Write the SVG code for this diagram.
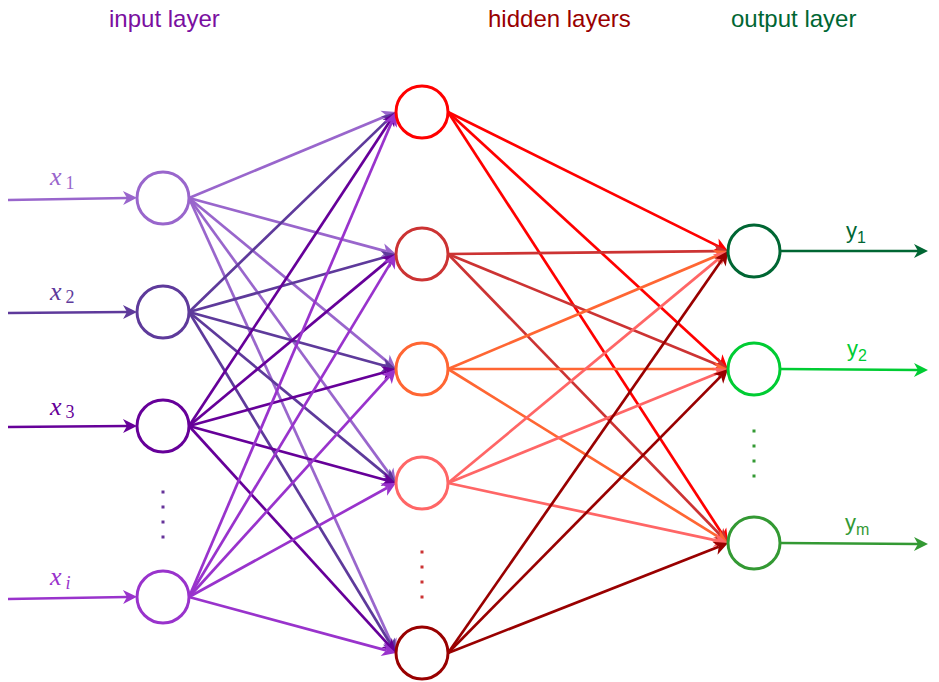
<svg xmlns="http://www.w3.org/2000/svg" width="939" height="682" viewBox="0 0 939 682">
<style>
.node{fill:#fff;stroke-width:3}
.e{fill:none;stroke-width:2.7}
.t{font-family:"Liberation Sans",Arial,sans-serif;font-size:24px}
.m{font-family:"Liberation Serif","DejaVu Serif",serif;font-style:italic;font-size:26px}
.ms{font-family:"Liberation Serif","DejaVu Serif",serif;font-size:18px}
.y{font-family:"Liberation Sans",Arial,sans-serif;font-size:22px}
.ys{font-family:"Liberation Sans",Arial,sans-serif;font-size:16px}
.c1{stroke:#9966CC}.c2{stroke:#5E3A9B}.c3{stroke:#660099}.c4{stroke:#9933CC}
.h1{stroke:#FF0000}.h2{stroke:#CC3333}.h3{stroke:#FF6633}.h4{stroke:#FF6666}.h5{stroke:#990000}
.o1{stroke:#006633}.o2{stroke:#00CC33}.o3{stroke:#339933}
</style>
<defs>
<marker id="a-c1" markerUnits="userSpaceOnUse" markerWidth="14" markerHeight="14" refX="4" refY="7" orient="auto" overflow="visible"><path d="M0,0 L14,7 L0,14 L4,7 z" fill="#9966CC"/></marker>
<marker id="a-c2" markerUnits="userSpaceOnUse" markerWidth="14" markerHeight="14" refX="4" refY="7" orient="auto" overflow="visible"><path d="M0,0 L14,7 L0,14 L4,7 z" fill="#5E3A9B"/></marker>
<marker id="a-c3" markerUnits="userSpaceOnUse" markerWidth="14" markerHeight="14" refX="4" refY="7" orient="auto" overflow="visible"><path d="M0,0 L14,7 L0,14 L4,7 z" fill="#660099"/></marker>
<marker id="a-c4" markerUnits="userSpaceOnUse" markerWidth="14" markerHeight="14" refX="4" refY="7" orient="auto" overflow="visible"><path d="M0,0 L14,7 L0,14 L4,7 z" fill="#9933CC"/></marker>
<marker id="a-h1" markerUnits="userSpaceOnUse" markerWidth="14" markerHeight="14" refX="4" refY="7" orient="auto" overflow="visible"><path d="M0,0 L14,7 L0,14 L4,7 z" fill="#FF0000"/></marker>
<marker id="a-h2" markerUnits="userSpaceOnUse" markerWidth="14" markerHeight="14" refX="4" refY="7" orient="auto" overflow="visible"><path d="M0,0 L14,7 L0,14 L4,7 z" fill="#CC3333"/></marker>
<marker id="a-h3" markerUnits="userSpaceOnUse" markerWidth="14" markerHeight="14" refX="4" refY="7" orient="auto" overflow="visible"><path d="M0,0 L14,7 L0,14 L4,7 z" fill="#FF6633"/></marker>
<marker id="a-h4" markerUnits="userSpaceOnUse" markerWidth="14" markerHeight="14" refX="4" refY="7" orient="auto" overflow="visible"><path d="M0,0 L14,7 L0,14 L4,7 z" fill="#FF6666"/></marker>
<marker id="a-h5" markerUnits="userSpaceOnUse" markerWidth="14" markerHeight="14" refX="4" refY="7" orient="auto" overflow="visible"><path d="M0,0 L14,7 L0,14 L4,7 z" fill="#990000"/></marker>
<marker id="a-o1" markerUnits="userSpaceOnUse" markerWidth="14" markerHeight="14" refX="4" refY="7" orient="auto" overflow="visible"><path d="M0,0 L14,7 L0,14 L4,7 z" fill="#006633"/></marker>
<marker id="a-o2" markerUnits="userSpaceOnUse" markerWidth="14" markerHeight="14" refX="4" refY="7" orient="auto" overflow="visible"><path d="M0,0 L14,7 L0,14 L4,7 z" fill="#00CC33"/></marker>
<marker id="a-o3" markerUnits="userSpaceOnUse" markerWidth="14" markerHeight="14" refX="4" refY="7" orient="auto" overflow="visible"><path d="M0,0 L14,7 L0,14 L4,7 z" fill="#339933"/></marker>
</defs>
<rect width="939" height="682" fill="#fff"/>

<g id="layer-titles">
<text class="t" x="109" y="27" fill="#7A0FA0">input layer</text>
<text class="t" x="488" y="27" fill="#990000">hidden layers</text>
<text class="t" x="731" y="27" fill="#006633">output layer</text>
</g>

<g id="connectors">
<line class="e c1" x1="8" y1="200" x2="127" y2="198" marker-end="url(#a-c1)"/>
<line class="e c2" x1="8" y1="313" x2="127" y2="312" marker-end="url(#a-c2)"/>
<line class="e c3" x1="8" y1="427" x2="127" y2="426" marker-end="url(#a-c3)"/>
<line class="e c4" x1="8" y1="599" x2="127" y2="597" marker-end="url(#a-c4)"/>
<line class="e c1" x1="189" y1="198" x2="386.8" y2="115.8" marker-end="url(#a-c1)"/>
<line class="e c1" x1="189" y1="198" x2="386.3" y2="251.4" marker-end="url(#a-c1)"/>
<line class="e c1" x1="189" y1="198" x2="388.3" y2="362.6" marker-end="url(#a-c1)"/>
<line class="e c1" x1="189" y1="198" x2="390.1" y2="474.9" marker-end="url(#a-c1)"/>
<line class="e c1" x1="189" y1="198" x2="391.9" y2="643.9" marker-end="url(#a-c1)"/>
<line class="e c2" x1="189" y1="312" x2="388.8" y2="118.9" marker-end="url(#a-c2)"/>
<line class="e c2" x1="189" y1="312" x2="386.4" y2="256.7" marker-end="url(#a-c2)"/>
<line class="e c2" x1="189" y1="312" x2="386.4" y2="366.3" marker-end="url(#a-c2)"/>
<line class="e c2" x1="189" y1="312" x2="388.3" y2="476.6" marker-end="url(#a-c2)"/>
<line class="e c2" x1="189" y1="312" x2="390.8" y2="644.5" marker-end="url(#a-c2)"/>
<line class="e c3" x1="189" y1="426" x2="390.5" y2="120.3" marker-end="url(#a-c3)"/>
<line class="e c3" x1="189" y1="426" x2="388.3" y2="260.4" marker-end="url(#a-c3)"/>
<line class="e c3" x1="189" y1="426" x2="386.4" y2="371.7" marker-end="url(#a-c3)"/>
<line class="e c3" x1="189" y1="426" x2="386.4" y2="480.3" marker-end="url(#a-c3)"/>
<line class="e c3" x1="189" y1="426" x2="389.3" y2="645.6" marker-end="url(#a-c3)"/>
<line class="e c4" x1="189" y1="597" x2="392.1" y2="121.2" marker-end="url(#a-c4)"/>
<line class="e c4" x1="189" y1="597" x2="390.8" y2="262.6" marker-end="url(#a-c4)"/>
<line class="e c4" x1="189" y1="597" x2="389.3" y2="376.4" marker-end="url(#a-c4)"/>
<line class="e c4" x1="189" y1="597" x2="387.2" y2="487.8" marker-end="url(#a-c4)"/>
<line class="e c4" x1="189" y1="597" x2="386.3" y2="650.4" marker-end="url(#a-c4)"/>
<line class="e h1" x1="448" y1="112" x2="719.0" y2="246.6" marker-end="url(#a-h1)"/>
<line class="e h1" x1="448" y1="112" x2="720.6" y2="362.2" marker-end="url(#a-h1)"/>
<line class="e h1" x1="448" y1="112" x2="722.6" y2="534.6" marker-end="url(#a-h1)"/>
<line class="e h2" x1="448" y1="254" x2="718" y2="251.1" marker-end="url(#a-h2)"/>
<line class="e h2" x1="448" y1="254" x2="718.8" y2="365.2" marker-end="url(#a-h2)"/>
<line class="e h2" x1="448" y1="254" x2="721.0" y2="535.8" marker-end="url(#a-h2)"/>
<line class="e h3" x1="448" y1="369" x2="718.8" y2="254.9" marker-end="url(#a-h3)"/>
<line class="e h3" x1="448" y1="369" x2="718" y2="369" marker-end="url(#a-h3)"/>
<line class="e h3" x1="448" y1="369" x2="719.5" y2="537.7" marker-end="url(#a-h3)"/>
<line class="e h4" x1="448" y1="483" x2="720.3" y2="257.4" marker-end="url(#a-h4)"/>
<line class="e h4" x1="448" y1="483" x2="718.7" y2="372.8" marker-end="url(#a-h4)"/>
<line class="e h4" x1="448" y1="483" x2="718.2" y2="540.9" marker-end="url(#a-h4)"/>
<line class="e h5" x1="448" y1="653" x2="722.3" y2="259.2" marker-end="url(#a-h5)"/>
<line class="e h5" x1="448" y1="653" x2="721.0" y2="376.1" marker-end="url(#a-h5)"/>
<line class="e h5" x1="448" y1="653" x2="718.7" y2="546.7" marker-end="url(#a-h5)"/>
<line class="e o1" x1="780" y1="251" x2="918" y2="251" marker-end="url(#a-o1)"/>
<line class="e o2" x1="780" y1="369" x2="918" y2="370" marker-end="url(#a-o2)"/>
<line class="e o3" x1="780" y1="543" x2="918" y2="544" marker-end="url(#a-o3)"/>
</g>

<g id="input-labels">
<text x="50" y="185" fill="#9966CC"><tspan class="m">x</tspan><tspan class="ms" dx="4" dy="4">1</tspan></text>
<text x="50" y="300" fill="#5E3A9B"><tspan class="m">x</tspan><tspan class="ms" dx="4" dy="3">2</tspan></text>
<text x="50" y="415" fill="#660099"><tspan class="m">x</tspan><tspan class="ms" dx="4" dy="3">3</tspan></text>
<text x="50" y="585" fill="#9933CC"><tspan class="m">x</tspan><tspan class="ms" font-style="italic" dx="4" dy="4">i</tspan></text>
</g>

<g id="input-nodes">
<circle id="in1" class="node c1" cx="163" cy="198" r="26"/>
<circle id="in2" class="node c2" cx="163" cy="312" r="26"/>
<circle id="in3" class="node c3" cx="163" cy="426" r="26"/>
<circle id="ini" class="node c4" cx="163" cy="597" r="26"/>
<g id="input-dots" fill="#663399">
<rect x="161.5" y="490.5" width="3" height="3"/><rect x="161.5" y="505.5" width="3" height="3"/><rect x="161.5" y="520.5" width="3" height="3"/><rect x="161.5" y="535.5" width="3" height="3"/>
</g>
</g>

<g id="hidden-nodes">
<circle id="h1" class="node h1" cx="422" cy="112" r="26"/>
<circle id="h2" class="node h2" cx="422" cy="254" r="26"/>
<circle id="h3" class="node h3" cx="422" cy="369" r="26"/>
<circle id="h4" class="node h4" cx="422" cy="483" r="26"/>
<circle id="h5" class="node h5" cx="422" cy="653" r="26"/>
<g id="hidden-dots" fill="#CC3333">
<rect x="420.5" y="550.5" width="3" height="3"/><rect x="420.5" y="565.5" width="3" height="3"/><rect x="420.5" y="580.5" width="3" height="3"/><rect x="420.5" y="595.5" width="3" height="3"/>
</g>
</g>

<g id="output-nodes">
<circle id="o1" class="node o1" cx="754" cy="251" r="26"/>
<circle id="o2" class="node o2" cx="754" cy="369" r="26"/>
<circle id="o3" class="node o3" cx="754" cy="543" r="26"/>
<g id="output-dots" fill="#339933">
<rect x="752.5" y="429.5" width="3" height="3"/><rect x="752.5" y="444.5" width="3" height="3"/><rect x="752.5" y="459.5" width="3" height="3"/><rect x="752.5" y="474.5" width="3" height="3"/>
</g>
</g>

<g id="output-labels">
<text x="846" y="238" fill="#006633"><tspan class="y">y</tspan><tspan class="ys" dy="5">1</tspan></text>
<text x="847" y="356" fill="#00CC33"><tspan class="y">y</tspan><tspan class="ys" dy="5">2</tspan></text>
<text x="845" y="530" fill="#339933"><tspan class="y">y</tspan><tspan class="ys" dy="5">m</tspan></text>
</g>
</svg>
